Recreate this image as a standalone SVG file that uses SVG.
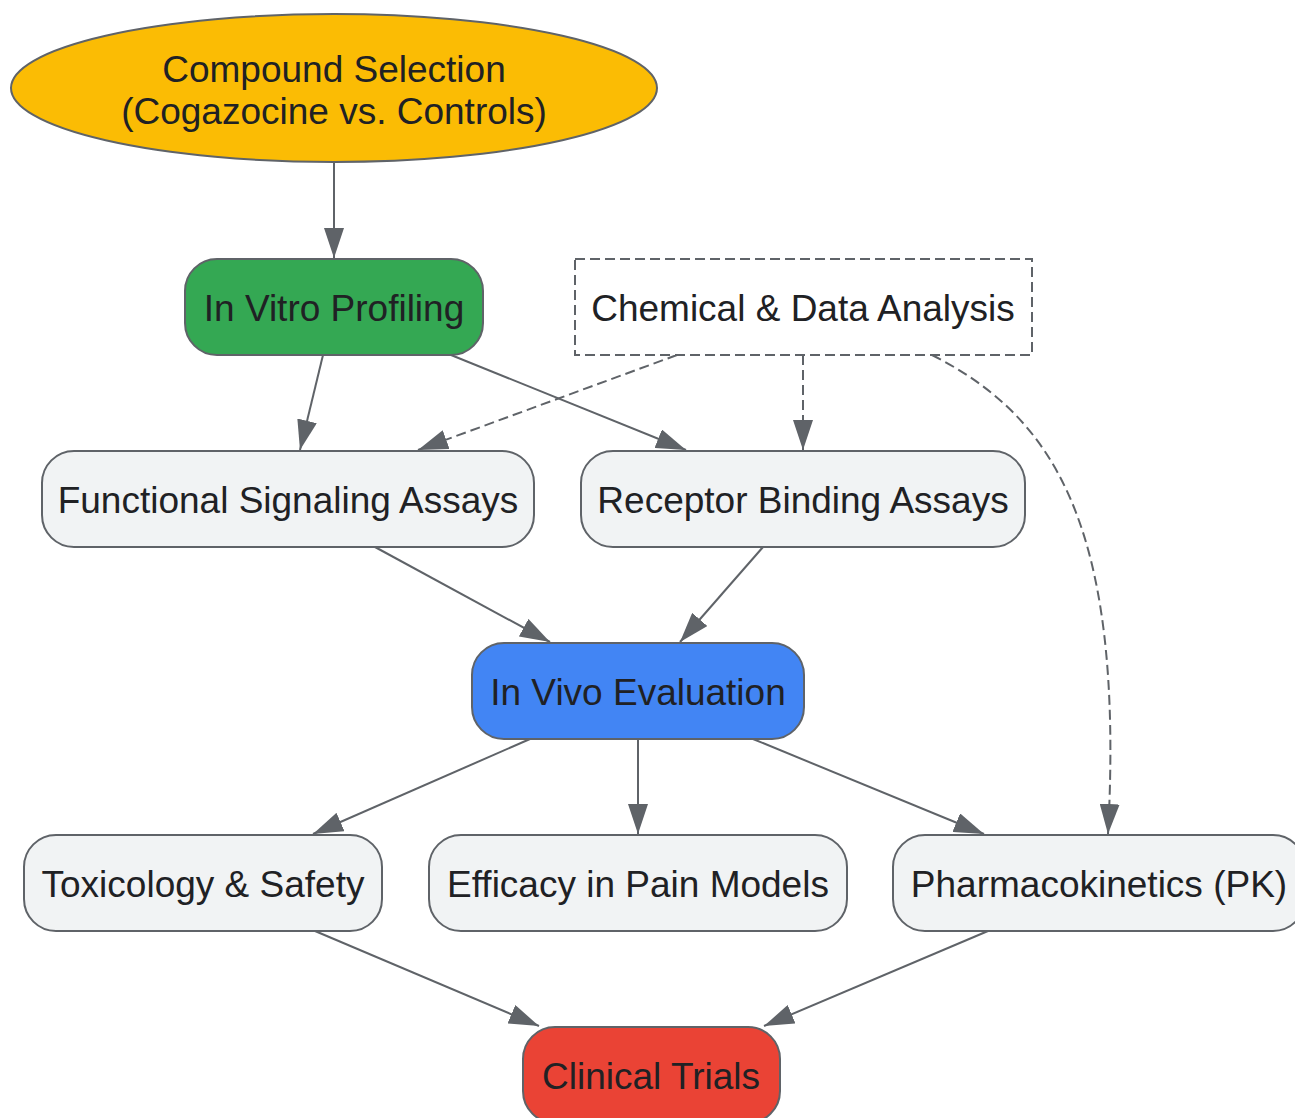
<svg xmlns="http://www.w3.org/2000/svg" width="1295" height="1118" viewBox="0 0 1295 1118">
<style>
.n{stroke:#5f6368;stroke-width:2}
.t{font-family:"Liberation Sans",Arial,sans-serif;font-size:37px;fill:#202124;text-anchor:middle}
.e{fill:none;stroke:#5f6368;stroke-width:2}
.d{stroke-dasharray:10,5}
</style>
<defs>
<marker id="ah" viewBox="0 0 30 20" refX="30" refY="10" markerWidth="30" markerHeight="20" markerUnits="userSpaceOnUse" orient="auto">
<path d="M0,0 L30,10 L0,20 Z" fill="#5f6368"/>
</marker>
</defs>
<rect width="1295" height="1118" fill="#ffffff"/>
<g id="connectors">
<path class="e" d="M334,162 L334,258" marker-end="url(#ah)"/>
<path class="e" d="M323,355 L300,450" marker-end="url(#ah)"/>
<path class="e" d="M451,355 L686,450" marker-end="url(#ah)"/>
<path class="e d" d="M677,355 L418,450" marker-end="url(#ah)"/>
<path class="e d" d="M803,355 L803,450" marker-end="url(#ah)"/>
<path class="e d" d="M932,355 C1050,415 1125,520 1108,834" marker-end="url(#ah)"/>
<path class="e" d="M375,547 L550,642" marker-end="url(#ah)"/>
<path class="e" d="M763,547 L680,642" marker-end="url(#ah)"/>
<path class="e" d="M530,739 L313,834" marker-end="url(#ah)"/>
<path class="e" d="M638,739 L638,834" marker-end="url(#ah)"/>
<path class="e" d="M753,739 L984,834" marker-end="url(#ah)"/>
<path class="e" d="M315,931 L539,1026" marker-end="url(#ah)"/>
<path class="e" d="M988,931 L764,1026" marker-end="url(#ah)"/>
</g>
<g id="compound">
<ellipse class="n" cx="334" cy="88" rx="323" ry="74" fill="#FBBC04"/>
<text class="t" x="334" y="82">Compound Selection</text>
<text class="t" x="334" y="124">(Cogazocine vs. Controls)</text>
</g>
<g id="invitro">
<rect class="n" x="185" y="259" width="298" height="96" rx="32" fill="#34A853"/>
<text class="t" x="334" y="321">In Vitro Profiling</text>
</g>
<g id="chemical">
<rect class="n d" x="575" y="259" width="457" height="96" fill="#ffffff"/>
<text class="t" x="803" y="321">Chemical &amp; Data Analysis</text>
</g>
<g id="functional">
<rect class="n" x="42" y="451" width="492" height="96" rx="32" fill="#F1F3F4"/>
<text class="t" x="288" y="513">Functional Signaling Assays</text>
</g>
<g id="receptor">
<rect class="n" x="581" y="451" width="444" height="96" rx="32" fill="#F1F3F4"/>
<text class="t" x="803" y="513">Receptor Binding Assays</text>
</g>
<g id="invivo">
<rect class="n" x="472" y="643" width="332" height="96" rx="32" fill="#4285F4"/>
<text class="t" x="638" y="705">In Vivo Evaluation</text>
</g>
<g id="toxicology">
<rect class="n" x="24" y="835" width="358" height="96" rx="32" fill="#F1F3F4"/>
<text class="t" x="203" y="897">Toxicology &amp; Safety</text>
</g>
<g id="efficacy">
<rect class="n" x="429" y="835" width="418" height="96" rx="32" fill="#F1F3F4"/>
<text class="t" x="638" y="897">Efficacy in Pain Models</text>
</g>
<g id="pk">
<rect class="n" x="893" y="835" width="412" height="96" rx="32" fill="#F1F3F4"/>
<text class="t" x="1099" y="897">Pharmacokinetics (PK)</text>
</g>
<g id="clinical">
<rect class="n" x="523" y="1027" width="257" height="96" rx="32" fill="#EA4335"/>
<text class="t" x="651" y="1089">Clinical Trials</text>
</g>
</svg>
